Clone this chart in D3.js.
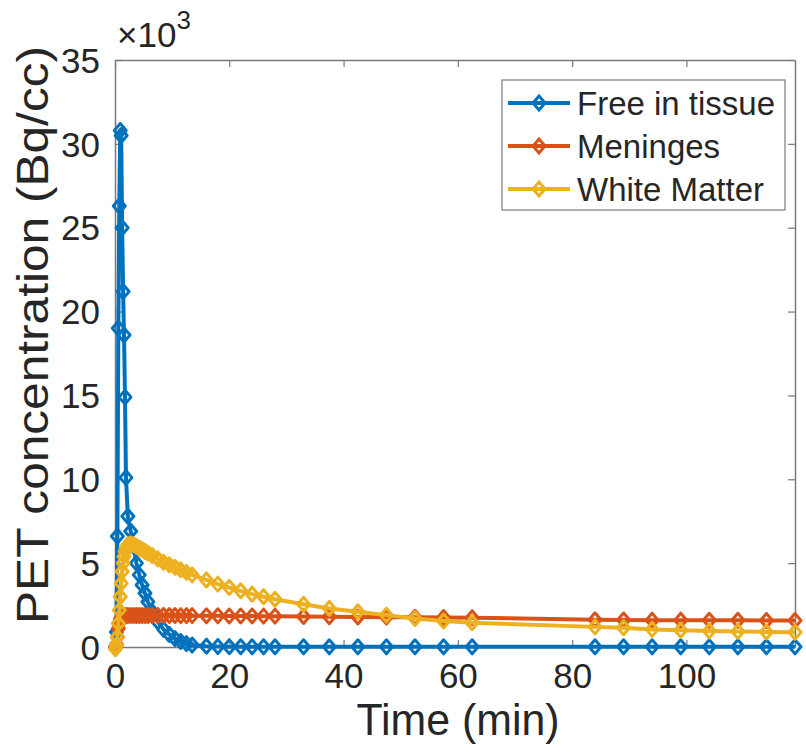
<!DOCTYPE html>
<html>
<head>
<meta charset="utf-8">
<script src="https://cdn.jsdelivr.net/npm/d3@7"></script>
<style>
  html, body { margin: 0; padding: 0; background: #fff; }
  svg { display: block; }
  text { font-family: "Liberation Sans", Arial, Helvetica, sans-serif; fill: #262626; }
</style>
</head>
<body>
<svg id="chart" width="806" height="753"></svg>
<script>
// ---- data ----
const time = [0.08, 0.25, 0.42, 0.58, 0.75, 0.92, 1.08, 1.25, 1.42, 1.58, 1.75, 1.92,
  2.25, 2.75, 3.25, 3.75, 4.25, 4.75, 5.25, 5.75,
  6.5, 7.5, 8.5, 9.5, 10.5, 11.5, 12.5, 13.5,
  16, 18, 20, 22, 24, 26, 28,
  33, 37.5, 42.5, 47.5, 52.5, 57.5, 62.5,
  84, 89, 94, 99, 104, 109, 114, 119];

const freeInTissue = [0, 900, 6600, 19000, 26300, 30800, 30500, 25000, 21200, 18600, 14900, 10100,
  7800, 6900, 6000, 5000, 4300, 3700, 3200, 2700,
  2100, 1500, 1050, 750, 500, 330, 200, 120,
  50, 30, 20, 15, 10, 10, 10,
  10, 10, 10, 10, 10, 10, 10,
  10, 10, 10, 10, 10, 10, 10, 10];

const meninges = [0, 150, 600, 1100, 1450, 1650, 1750, 1800, 1830, 1850, 1860, 1870,
  1880, 1880, 1880, 1880, 1880, 1880, 1880, 1880,
  1880, 1880, 1880, 1880, 1880, 1870, 1870, 1870,
  1860, 1860, 1850, 1850, 1850, 1840, 1840,
  1820, 1800, 1790, 1780, 1770, 1760, 1750,
  1620, 1610, 1600, 1600, 1590, 1590, 1580, 1580];

const whiteMatter = [-100, 100, 600, 1400, 2200, 3000, 3800, 4500, 5000, 5400, 5700, 5900,
  6100, 6150, 6100, 6000, 5900, 5800, 5700, 5600,
  5450, 5250, 5050, 4900, 4750, 4600, 4450, 4300,
  4000, 3750, 3550, 3350, 3150, 3000, 2850,
  2550, 2300, 2100, 1900, 1700, 1550, 1450,
  1200, 1150, 1050, 1000, 950, 930, 900, 880];

const seriesNames = ["Free in tissue", "Meninges", "White Matter"];
const seriesColors = ["#0072BD", "#D95319", "#EDB120"];
const seriesValues = [freeInTissue, meninges, whiteMatter];

const xTicks = [0, 20, 40, 60, 80, 100];
const yTicks = [0, 5000, 10000, 15000, 20000, 25000, 30000, 35000];
const xLabel = "Time (min)";
const yLabel = "PET concentration (Bq/cc)";

// ---- layout ----
const L = 115, R = 795, T = 60, B = 647;
const svg = d3.select("#chart");
const x = d3.scaleLinear().domain([0, 119]).range([L, R]);
const y = d3.scaleLinear().domain([0, 35000]).range([B, T]);

const axisColor = "#7a7a7a";

// axes box with inward ticks
const gx = svg.append("g").attr("transform", `translate(0,${B})`)
  .call(d3.axisBottom(x).tickValues(xTicks).tickSizeInner(-7).tickSizeOuter(0).tickPadding(16)
    .tickFormat(d3.format("d")));
const gxt = svg.append("g").attr("transform", `translate(0,${T})`)
  .call(d3.axisTop(x).tickValues(xTicks).tickSizeInner(-7).tickSizeOuter(0).tickFormat(""));
const gy = svg.append("g").attr("transform", `translate(${L},0)`)
  .call(d3.axisLeft(y).tickValues(yTicks).tickSizeInner(-7).tickSizeOuter(0).tickPadding(15)
    .tickFormat(d => d / 1000));
const gyr = svg.append("g").attr("transform", `translate(${R},0)`)
  .call(d3.axisRight(y).tickValues(yTicks).tickSizeInner(-7).tickSizeOuter(0).tickFormat(""));

[gx, gxt, gy, gyr].forEach(g => {
  g.select(".domain").attr("stroke", axisColor).attr("stroke-width", 1.5);
  g.selectAll(".tick line").attr("stroke", axisColor).attr("stroke-width", 1.2);
  g.selectAll("text").attr("font-size", 35).attr("fill", "#262626")
    .style("font-family", '"Liberation Sans", Arial, sans-serif');
});
gx.selectAll("text").attr("dy", "0.71em");
gy.selectAll("text").attr("dy", "0.35em");

// exponent label
const expo = svg.append("text").attr("x", L + 2).attr("y", 47).attr("font-size", 35);
expo.append("tspan").text("×10");
expo.append("tspan").attr("dy", -18).attr("font-size", 26).text("3");

// axis labels
svg.append("text").attr("x", (L + R) / 2 + 3).attr("y", 735).attr("text-anchor", "middle")
  .attr("font-size", 44).attr("textLength", 203).attr("lengthAdjust", "spacingAndGlyphs").text(xLabel);
svg.append("text").attr("transform", `translate(48,335) rotate(-90)`).attr("text-anchor", "middle")
  .attr("font-size", 45).attr("textLength", 578).attr("lengthAdjust", "spacingAndGlyphs").text(yLabel);

// series
const line = d3.line().x((d, i) => x(time[i])).y(d => y(d));
const diamond = (cx, cy, w, h) => `M${cx},${cy - h}L${cx + w},${cy}L${cx},${cy + h}L${cx - w},${cy}Z`;

seriesValues.forEach((vals, k) => {
  const g = svg.append("g");
  g.append("path").datum(vals).attr("d", line)
    .attr("fill", "none").attr("stroke", seriesColors[k]).attr("stroke-width", 4)
    .attr("stroke-linejoin", "round");
  g.selectAll("path.m").data(vals).enter().append("path").attr("class", "m")
    .attr("d", (d, i) => diamond(x(time[i]), y(d), 6, 7))
    .attr("fill", "none").attr("stroke", seriesColors[k]).attr("stroke-width", 3)
    .attr("stroke-linejoin", "round");
});

// legend
const lg = svg.append("g");
lg.append("rect").attr("x", 502).attr("y", 80).attr("width", 283).attr("height", 130)
  .attr("fill", "#fff").attr("stroke", axisColor).attr("stroke-width", 1.2);
seriesNames.forEach((name, k) => {
  const cy = 103 + k * 43;
  lg.append("line").attr("x1", 508).attr("x2", 570).attr("y1", cy).attr("y2", cy)
    .attr("stroke", seriesColors[k]).attr("stroke-width", 4);
  lg.append("path").attr("d", diamond(539, cy, 6, 7))
    .attr("fill", "none").attr("stroke", seriesColors[k]).attr("stroke-width", 3);
  lg.append("text").attr("x", 577).attr("y", cy).attr("dy", "0.35em")
    .attr("font-size", 33).text(name);
});
</script>
</body>
</html>
